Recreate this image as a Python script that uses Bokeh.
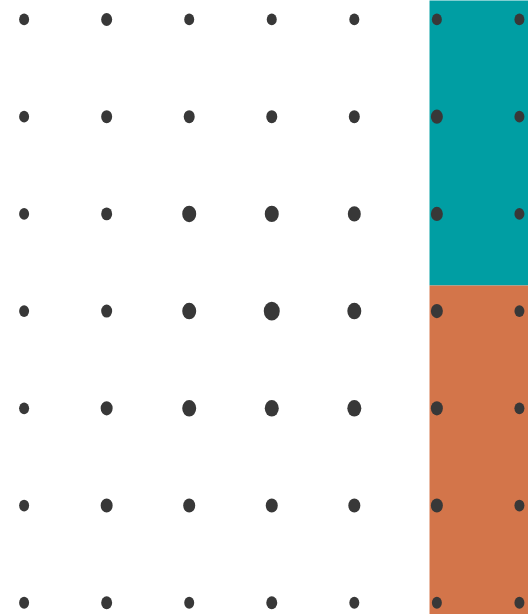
from bokeh.plotting import figure
from bokeh.models import Range1d, ColumnDataSource
from bokeh.embed import file_html
from bokeh.resources import INLINE

# Grid of dots: columns and rows (data coordinates)
cols = [0, 1, 2, 3, 4, 5, 6]
rows = [0, 1, 2, 3, 4, 5, 6]

# Dot magnitude per cell (row-major, row 0 at top)
values = [
    [10, 11, 10, 10, 10, 10, 10],
    [10, 11, 11, 11, 11, 12, 10],
    [10, 11, 14, 14, 13, 12, 10],
    [10, 11, 14, 16, 14, 12, 10],
    [10, 12, 14, 14, 14, 12, 10],
    [10, 12, 12, 12, 12, 12, 10],
    [10, 11, 10, 11, 10, 10, 10],
]

# Background bands (x start, y split)
band_x_start = 4.911
band_split_y = 2.737
band_colors = ["#009EA3", "#D3754A"]

xs, ys, ds = [], [], []
scale = 1.0 / 82.55
for r in rows:
    for c in cols:
        xs.append(c)
        ys.append(r)
        ds.append(values[r][c] * scale)

src = ColumnDataSource(data=dict(x=xs, y=ys, d=ds))

p = figure(width=528, height=614, output_backend="svg", toolbar_location=None,
           x_range=Range1d(-0.286, 6.110), y_range=Range1d(6.121, -0.195),
           min_border=0, outline_line_color=None,
           background_fill_color="white", border_fill_color="white")
p.xaxis.visible = False
p.yaxis.visible = False
p.xgrid.grid_line_color = None
p.ygrid.grid_line_color = None

p.quad(left=[band_x_start, band_x_start], right=[7, 7],
       top=[-1, band_split_y], bottom=[band_split_y, 7],
       fill_color=band_colors, line_color=None)

p.ellipse(x="x", y="y", width="d", height="d", source=src,
          fill_color="#383838", line_color=None)

open("out.html", "w").write(file_html(p, INLINE))
